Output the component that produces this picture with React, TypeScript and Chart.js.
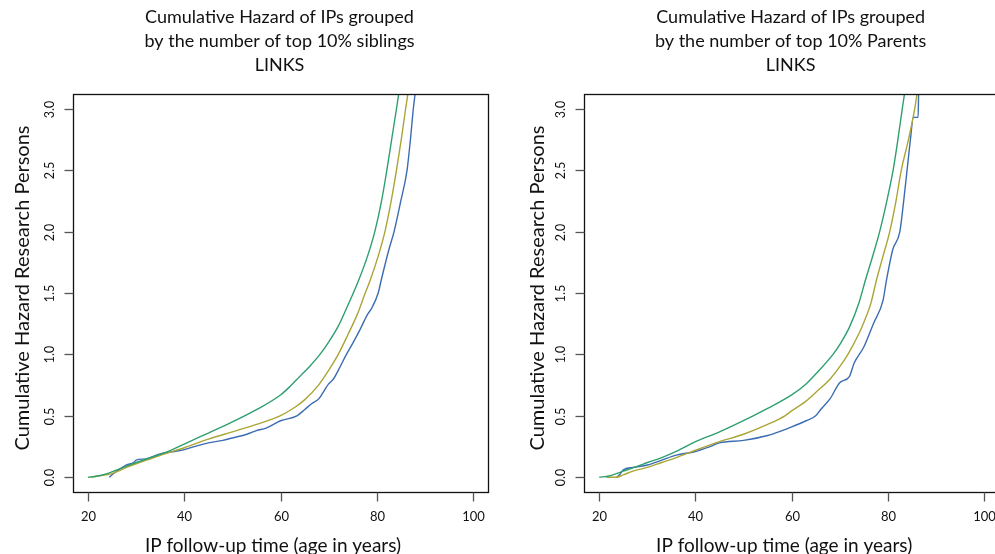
import React, { useEffect, useRef } from "react";
import { Chart, registerables } from "chart.js";

Chart.register(...registerables);

// ---- axes / text ----
const xTickValues = [20, 40, 60, 80, 100];
const xTickLabels = ["20", "40", "60", "80", "100"];
const yTickValues = [0, 0.5, 1, 1.5, 2, 2.5, 3];
const yTickLabels = ["0.0", "0.5", "1.0", "1.5", "2.0", "2.5", "3.0"];
const xAxisTitle = "IP follow-up time (age in years)";
const yAxisTitle = "Cumulative Hazard Research Persons";
const siblingsTitle = ["Cumulative Hazard of IPs grouped", "by the number of top 10% siblings", "LINKS"];
const parentsTitle = ["Cumulative Hazard of IPs grouped", "by the number of top 10% Parents", "LINKS"];
const X_MIN = 16.8;
const X_MAX = 103.2;
const Y_MIN = -0.12;
const Y_MAX = 3.12;

const seriesColors = ["#2e9f6e", "#aaa535", "#3b6cb2"];

// ---- siblings panel (age, cumulative hazard) ----
const sibGreenAge = [20, 22, 24, 26, 28, 30, 33, 36, 40, 45, 50, 55, 60, 62, 64, 66, 68.2, 70, 72, 74, 76.2, 78, 79.6, 81, 82.1, 83.1, 84.1, 84.6];
const sibGreenHaz = [0, 0.01, 0.03, 0.06, 0.09, 0.12, 0.16, 0.2, 0.27, 0.36, 0.45, 0.55, 0.67, 0.74, 0.82, 0.9, 1.0, 1.1, 1.23, 1.4, 1.6, 1.79, 2.0, 2.25, 2.5, 2.75, 3.0, 3.13];
const sibYellowAge = [20.5, 22, 25, 28, 30, 33, 36, 40, 45, 50, 55, 59.9, 63, 65, 67.9, 70, 72, 74, 76, 77.6, 78.6, 80.3, 81.7, 83, 84.1, 85.1, 86, 86.5];
const sibYellowHaz = [0, 0.01, 0.03, 0.08, 0.11, 0.15, 0.19, 0.24, 0.31, 0.37, 0.43, 0.5, 0.57, 0.63, 0.75, 0.87, 1.0, 1.16, 1.33, 1.5, 1.6, 1.8, 2.0, 2.25, 2.5, 2.75, 3.0, 3.13];
const sibBlueAge = [24.4, 25, 26, 28, 29.5, 30, 32, 35, 38, 40, 43, 45, 48, 50, 53, 55, 57, 60, 63.4, 65, 66.5, 68, 69, 70, 71, 72, 73.7, 75, 76.5, 78, 79, 80.3, 80.9, 82.5, 83.6, 85, 86.3, 87, 87.6, 88];
const sibBlueHaz = [0, 0.02, 0.05, 0.1, 0.12, 0.14, 0.15, 0.19, 0.21, 0.225, 0.26, 0.28, 0.3, 0.32, 0.35, 0.38, 0.4, 0.46, 0.5, 0.55, 0.6, 0.64, 0.7, 0.76, 0.8, 0.87, 1.0, 1.09, 1.2, 1.32, 1.38, 1.5, 1.6, 1.85, 2.0, 2.25, 2.5, 2.75, 3.0, 3.13];

// ---- parents panel (age, cumulative hazard) ----
const parGreenAge = [20, 22, 25, 28, 30, 33, 36, 40, 45, 52, 55, 60, 63, 65, 68.6, 70, 72, 74, 75.3, 77, 78.3, 79.8, 81.1, 82.1, 83, 83.5];
const parGreenHaz = [0, 0.01, 0.05, 0.09, 0.12, 0.16, 0.21, 0.29, 0.37, 0.5, 0.56, 0.67, 0.76, 0.84, 1.0, 1.08, 1.22, 1.42, 1.6, 1.82, 2.0, 2.25, 2.5, 2.75, 3.0, 3.13];
const parYellowAge = [21.5, 23.5, 25, 27, 30, 33, 36, 40, 45, 50, 55, 58.6, 60, 63, 65, 68, 70, 71.7, 74, 75, 76.5, 77.6, 79, 80.4, 81.7, 82.8, 84.3, 85.6, 86.1];
const parYellowHaz = [0, 0, 0.02, 0.05, 0.08, 0.12, 0.16, 0.22, 0.29, 0.35, 0.43, 0.5, 0.54, 0.62, 0.69, 0.8, 0.9, 1.0, 1.17, 1.26, 1.42, 1.6, 1.8, 2.0, 2.25, 2.5, 2.75, 3.0, 3.13];
const parBlueAge = [23.6, 24.2, 25, 27, 30, 33, 36, 40, 43, 45, 50, 55, 58, 60, 63, 65, 66, 68, 70, 72, 73, 75, 77, 79, 79.7, 81, 82.5, 83.3, 84, 84.7, 85.3, 86.3, 86.4];
const parBlueHaz = [0, 0.02, 0.06, 0.08, 0.1, 0.14, 0.18, 0.21, 0.25, 0.28, 0.3, 0.34, 0.38, 0.41, 0.46, 0.5, 0.55, 0.64, 0.77, 0.82, 0.93, 1.06, 1.25, 1.44, 1.6, 1.85, 2.0, 2.25, 2.5, 2.75, 2.93, 2.93, 3.13];

const FONT = "Lato, 'Open Sans', sans-serif";

type PanelProps = {
  title: string[];
  series: { age: number[]; haz: number[] }[];
  left: number;
  width: number;
  padLeft: number;
  padRight: number;
  yTitleOffset: number;
};

function Panel(props: PanelProps) {
  const ref = useRef<HTMLCanvasElement | null>(null);
  useEffect(() => {
    const canvas = ref.current;
    if (!canvas) return;
    const axesPlugin = {
      id: "rAxes",
      afterDraw(chart: any) {
        const ctx = chart.ctx as CanvasRenderingContext2D;
        const area = chart.chartArea;
        const xs = chart.scales.x;
        const ys = chart.scales.y;
        const L = Math.round(area.left) + 0.5;
        const R = Math.round(area.right) + 0.5;
        const T = Math.round(area.top) + 0.5;
        const B = Math.round(area.bottom) + 0.5;
        ctx.save();
        // box
        ctx.strokeStyle = "#111";
        ctx.lineWidth = 1.3;
        ctx.strokeRect(L, T, R - L, B - T);
        // x ticks
        ctx.strokeStyle = "#555";
        ctx.lineWidth = 1.3;
        ctx.fillStyle = "#111";
        ctx.font = `13px ${FONT}`;
        ctx.textAlign = "center";
        ctx.textBaseline = "middle";
        xTickValues.forEach((v, i) => {
          const px = Math.round(xs.getPixelForValue(v)) + 0.5;
          ctx.beginPath();
          ctx.moveTo(px, B);
          ctx.lineTo(px, B + 9);
          ctx.stroke();
          ctx.fillText(xTickLabels[i], px, B + 24);
        });
        // y ticks
        ctx.font = `12.5px ${FONT}`;
        yTickValues.forEach((v, i) => {
          const py = Math.round(ys.getPixelForValue(v)) + 0.5;
          ctx.beginPath();
          ctx.moveTo(L, py);
          ctx.lineTo(L - 9, py);
          ctx.stroke();
          ctx.save();
          ctx.translate(L - 24, py);
          ctx.rotate(-Math.PI / 2);
          ctx.fillText(yTickLabels[i], 0, 0);
          ctx.restore();
        });
        // axis titles
        const cx = (area.left + area.right) / 2;
        const cy = (area.top + area.bottom) / 2;
        ctx.fillStyle = "#111";
        ctx.font = `19px ${FONT}`;
        ctx.fillText(xAxisTitle, cx - 7.5, B + 53);
        ctx.save();
        ctx.font = `20px ${FONT}`;
        ctx.translate(L - props.yTitleOffset, cy - 5);
        ctx.rotate(-Math.PI / 2);
        ctx.fillText(yAxisTitle, 0, 0);
        ctx.restore();
        // main title
        ctx.font = `18px ${FONT}`;
        props.title.forEach((line, i) => {
          ctx.fillText(line, cx - 1, 17 + i * 24.3);
        });
        ctx.restore();
      },
    };
    const chart = new Chart(canvas, {
      type: "line",
      data: {
        datasets: props.series.map((s, i) => ({
          label: `group ${i + 1}`,
          data: s.age.map((a, j) => ({ x: a, y: s.haz[j] })),
          borderColor: seriesColors[i],
          borderWidth: 1.4,
          pointRadius: 0,
          cubicInterpolationMode: "monotone",
          fill: false,
          clip: 0,
        })),
      },
      options: {
        responsive: false,
        animation: false,
        devicePixelRatio: 1,
        layout: { padding: { left: props.padLeft, right: props.padRight, top: 94, bottom: 62 } },
        plugins: { legend: { display: false }, tooltip: { enabled: false }, title: { display: false } },
        scales: {
          x: { type: "linear", min: X_MIN, max: X_MAX, display: false },
          y: { type: "linear", min: Y_MIN, max: Y_MAX, display: false },
        },
      },
      plugins: [axesPlugin],
    });
    return () => chart.destroy();
  }, []);
  return (
    <canvas
      ref={ref}
      width={props.width}
      height={554}
      style={{ position: "absolute", left: props.left, top: 0, width: props.width, height: 554 }}
    />
  );
}

export default function App() {
  const siblingsSeries = [
    { age: sibGreenAge, haz: sibGreenHaz },
    { age: sibYellowAge, haz: sibYellowHaz },
    { age: sibBlueAge, haz: sibBlueHaz },
  ];
  const parentsSeries = [
    { age: parGreenAge, haz: parGreenHaz },
    { age: parYellowAge, haz: parYellowHaz },
    { age: parBlueAge, haz: parBlueHaz },
  ];
  return (
    <div style={{ position: "fixed", left: 0, top: 0, width: 995, height: 554, overflow: "hidden", background: "#fff" }}>
      <Panel title={siblingsTitle} series={siblingsSeries} left={0} width={497} padLeft={72.6} padRight={8.6} yTitleOffset={50.5} />
      <Panel title={parentsTitle} series={parentsSeries} left={497} width={513} padLeft={86.9} padRight={10.6} yTitleOffset={47} />
    </div>
  );
}
